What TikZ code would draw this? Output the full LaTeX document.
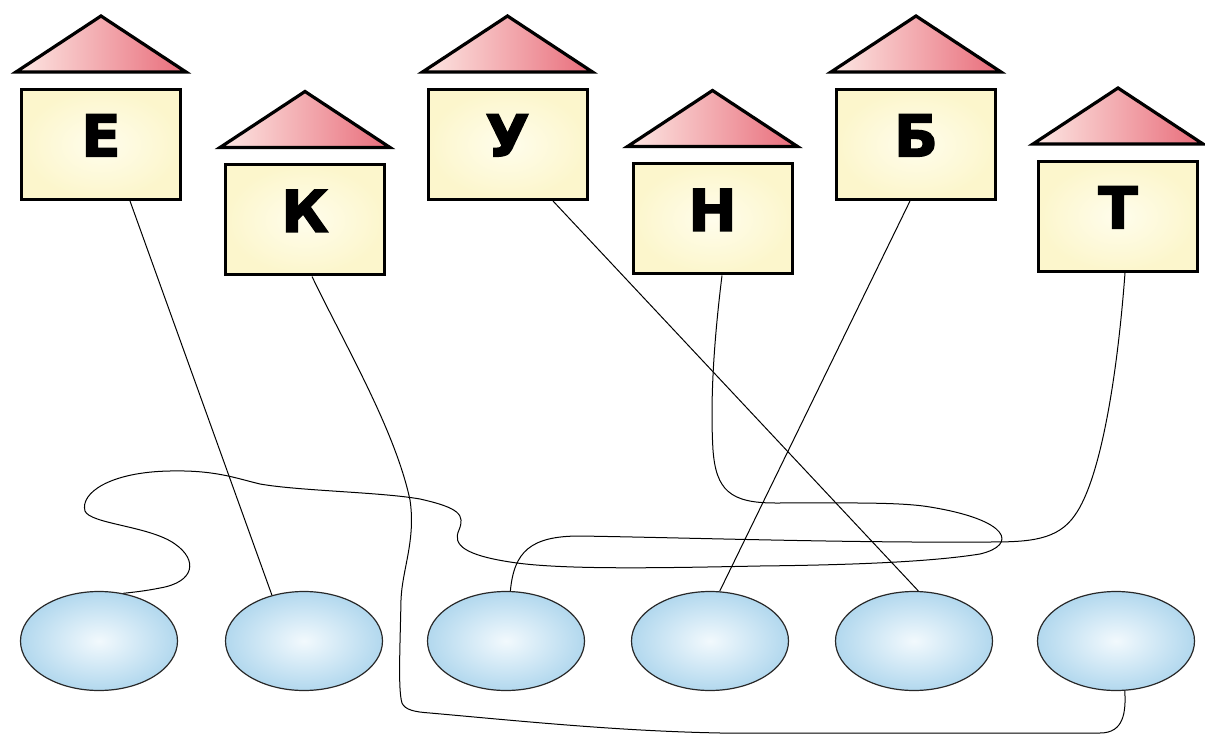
\documentclass[tikz,border=0pt]{standalone}
\usepackage{fontspec}
\setmainfont{DejaVu Sans}
\newfontfamily\letterfont{DejaVu Sans Bold}[FakeBold=2.2]
\usetikzlibrary{shapes.geometric}

\definecolor{RoofL}{RGB}{253,232,228}
\definecolor{RoofR}{RGB}{232,108,122}
\definecolor{BoxIn}{RGB}{255,253,236}
\definecolor{BoxOut}{RGB}{252,246,204}
\definecolor{OvalIn}{RGB}{242,249,253}
\definecolor{OvalOut}{RGB}{178,216,238}
\definecolor{OvalLine}{RGB}{40,40,40}

\begin{document}
\begin{tikzpicture}[x=1pt, y=-1pt,
  box/.style={rectangle, draw, line width=3pt, minimum width=159pt, minimum height=110pt,
    inner sep=0pt, inner color=BoxIn, outer color=BoxOut,
    font=\fontsize{58}{60}\letterfont, text height=42pt, text depth=18pt},
  roof/.style={draw, line width=3.2pt, left color=RoofL, right color=RoofR},
  oval/.style={ellipse, draw=OvalLine, line width=1.2pt, minimum width=157pt, minimum height=99pt,
    inner sep=0pt, inner color=OvalIn, outer color=OvalOut},
  wire/.style={line width=1pt}]
\useasboundingbox (0,0) rectangle (1205,735);
\node[box] (BoxE) at (101,144.5) {Е};
\node[box] (BoxK) at (305,220) {К};
\node[box] (BoxU) at (507.5,144.5) {У};
\node[box] (BoxN) at (712.5,219) {Н};
\node[box] (BoxB) at (916,144.5) {Б};
\node[box] (BoxT) at (1118,216.5) {Т};
\draw[roof] ([xshift=-4pt,yshift=16pt]BoxE.north west) -- ([yshift=72pt]BoxE.north) -- ([xshift=4pt,yshift=16pt]BoxE.north east) -- cycle;
\draw[roof] ([xshift=-4pt,yshift=16pt]BoxK.north west) -- ([yshift=72pt]BoxK.north) -- ([xshift=4pt,yshift=16pt]BoxK.north east) -- cycle;
\draw[roof] ([xshift=-4pt,yshift=16pt]BoxU.north west) -- ([yshift=72pt]BoxU.north) -- ([xshift=4pt,yshift=16pt]BoxU.north east) -- cycle;
\draw[roof] ([xshift=-4pt,yshift=16pt]BoxN.north west) -- ([yshift=72pt]BoxN.north) -- ([xshift=4pt,yshift=16pt]BoxN.north east) -- cycle;
\draw[roof] ([xshift=-4pt,yshift=16pt]BoxB.north west) -- ([yshift=72pt]BoxB.north) -- ([xshift=4pt,yshift=16pt]BoxB.north east) -- cycle;
\draw[roof] ([xshift=-4pt,yshift=16pt]BoxT.north west) -- ([yshift=72pt]BoxT.north) -- ([xshift=4pt,yshift=16pt]BoxT.north east) -- cycle;
\node[oval] (Oval1) at (99,641) {};
\node[oval] (Oval2) at (304,641) {};
\node[oval] (Oval3) at (506,641) {};
\node[oval] (Oval4) at (710,641) {};
\node[oval] (Oval5) at (914,641) {};
\node[oval] (Oval6) at (1116,641) {};
\draw[wire] ([xshift=29pt]BoxE.south) -- (Oval2.125);
\draw[wire] ([xshift=45.5pt]BoxU.south) -- (Oval5.85);
\draw[wire] ([xshift=-6pt]BoxB.south) -- (Oval4.79);
\draw[wire] ([xshift=7pt]BoxK.south) .. controls (345,345) and (395,430) .. (410,500)
  .. controls (416,540) and (402,570) .. (401,600)
  .. controls (400,650) and (398,690) .. (402,703)
  .. controls (405,710) and (415,712) .. (430,713)
  .. controls (530,722) and (620,731) .. (720,733)
  -- (1100,733)
  .. controls (1124,733) and (1126,712) .. (Oval6.-80);
\draw[wire] ([xshift=7pt]BoxT.south) .. controls (1117,380) and (1100,480) .. (1075,515)
  .. controls (1058,540) and (1030,542) .. (990,542)
  .. controls (850,543) and (700,538) .. (580,536)
  .. controls (530,536) and (514,552) .. (Oval3.85);
\draw[wire] ([xshift=9.5pt]BoxN.south) .. controls (714,340) and (710,400) .. (713,450)
  .. controls (716,490) and (730,503) .. (775,503)
  .. controls (850,503) and (900,502) .. (930,507)
  .. controls (1010,520) and (1018,545) .. (980,554)
  .. controls (930,562) and (850,565) .. (760,566)
  .. controls (660,568) and (560,570) .. (510,562)
  .. controls (465,555) and (452,545) .. (459,530)
  .. controls (465,515) and (460,508) .. (420,499)
  .. controls (380,492) and (300,491) .. (260,484)
  .. controls (235,478) and (215,470) .. (170,471)
  .. controls (110,472) and (80,493) .. (85,511)
  .. controls (90,524) and (150,526) .. (175,544)
  .. controls (198,560) and (195,582) .. (160,588)
  .. controls (145,591) and (135,592) .. (Oval1.63);
\end{tikzpicture}
\end{document}
